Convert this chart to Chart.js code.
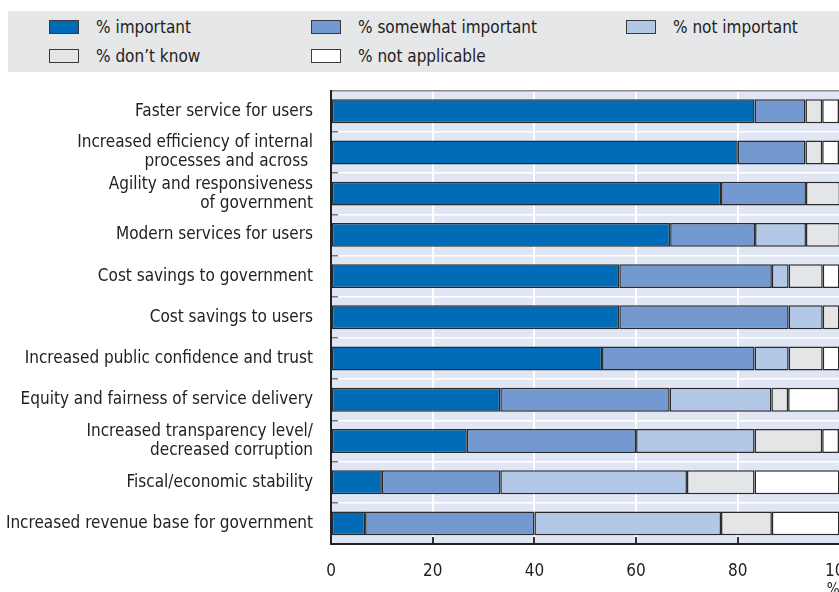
<!doctype html>
<html lang="en">
<head>
  <meta charset="utf-8">
  <title>Expected benefits</title>
  <script src="https://cdn.jsdelivr.net/npm/chart.js"></script>
  <style>
    body {
      margin: 0;
      width: 839px;
      height: 592px;
      overflow: hidden;
      position: relative;
      background: #fff;
      font-family: 'Liberation Sans Narrow', 'DejaVu Sans Condensed', sans-serif;
    }
    #legend {
      position: absolute;
      left: 8px;
      top: 11px;
      width: 831px;
      height: 61px;
      background: #e6e7e9;
    }
    .item {
      position: absolute;
      height: 15px;
      font-size: 17px;
      color: #222;
      white-space: nowrap;
    }
    .item span.box {
      position: absolute;
      left: 0;
      top: 0;
      width: 28px;
      height: 12px;
      border: 1.5px solid #3a3a3a;
    }
    .item span.txt {
      position: absolute;
      left: 47px;
      top: -3px;
      line-height: 20px;
    }
    #wrap {
      position: absolute;
      left: 0;
      top: 80px;
      width: 860px;
      height: 525px;
    }
  </style>
</head>
<body>
  <div id="legend"></div>
  <div id="wrap"><canvas id="myChart"></canvas></div>

  <script>
    const categories = [
      'Faster service for users',
      ['Increased efficiency of internal', 'processes and across '],
      ['Agility and responsiveness', 'of government'],
      'Modern services for users',
      'Cost savings to government',
      'Cost savings to users',
      'Increased public confidence and trust',
      'Equity and fairness of service delivery',
      ['Increased transparency level/', 'decreased corruption'],
      'Fiscal/economic stability',
      'Increased revenue base for government'
    ]
    const seriesNames = ['% important', '% somewhat important', '% not important', '% don\u2019t know', '% not applicable']
    const seriesColors = ['#006bb6', '#7399d0', '#b3c7e7', '#e4e5e7', '#ffffff']

    const important = [83.3, 80, 76.7, 66.7, 56.7, 56.7, 53.3, 33.3, 26.7, 10, 6.7]
    const somewhatImportant = [10, 13.3, 16.7, 16.7, 30, 33.3, 30, 33.3, 33.3, 23.3, 33.3]
    const notImportant = [0, 0, 0, 10, 3.3, 6.7, 6.7, 20, 23.3, 36.7, 36.7]
    const dontKnow = [3.3, 3.3, 6.7, 6.7, 6.7, 3.3, 6.7, 3.3, 13.3, 13.3, 10]
    const notApplicable = [3.3, 3.3, 0, 0, 3.3, 0, 3.3, 10, 3.3, 16.7, 13.3]
    const xTicks = [0, 20, 40, 60, 80, 100]

    const seriesValues = [important, somewhatImportant, notImportant, dontKnow, notApplicable]

    // legend in two rows, fixed columns like the original figure
    const legendCols = [41, 303, 618]
    const legendRows = [9, 38]
    const legendPlace = [[0, 0], [0, 1], [0, 2], [1, 0], [1, 1]]
    const legendEl = document.getElementById('legend')
    seriesNames.forEach((name, i) => {
      const item = document.createElement('div')
      item.className = 'item'
      item.style.left = legendCols[legendPlace[i][1]] + 'px'
      item.style.top = legendRows[legendPlace[i][0]] + 'px'
      item.innerHTML = '<span class="box" style="background:' + seriesColors[i] + '"></span><span class="txt"></span>'
      item.querySelector('.txt').textContent = name
      legendEl.appendChild(item)
    })

    const fontFamily = "'Liberation Sans Narrow', 'DejaVu Sans Condensed', sans-serif"
    Chart.defaults.font.family = fontFamily
    Chart.defaults.color = '#222'

    const plotBackground = {
      id: 'plotBackground',
      beforeDraw(chart) {
        const a = chart.chartArea
        const ctx = chart.ctx
        ctx.save()
        ctx.fillStyle = '#e0e6f4'
        ctx.fillRect(a.left, a.top, a.right - a.left, a.bottom - a.top)
        ctx.restore()
      }
    }

    const datasets = seriesNames.map((name, i) => ({
      label: name,
      data: seriesValues[i],
      backgroundColor: seriesColors[i],
      borderColor: '#2a2a2a',
      borderWidth: 1.5,
      borderSkipped: false,
      categoryPercentage: 1,
      barPercentage: 0.58
    }))

    var myChart = new Chart(document.getElementById('myChart'), {
      type: 'bar',
      data: { labels: categories, datasets },
      plugins: [plotBackground],
      options: {
        indexAxis: 'y',
        animation: false,
        responsive: true,
        maintainAspectRatio: false,
        layout: { padding: { top: 10.6, left: 0, right: 20.5, bottom: 0 } },
        plugins: {
          legend: { display: false },
          tooltip: { enabled: false }
        },
        scales: {
          x: {
            stacked: true,
            min: 0,
            max: 100,
            afterBuildTicks: (scale) => { scale.ticks = xTicks.map(v => ({ value: v })) },
            afterFit: (scale) => {
              scale.height = 61
              scale.paddingLeft = 0
              scale.paddingRight = 0
            },
            grid: {
              color: '#ffffff',
              lineWidth: 2,
              tickColor: '#333',
              tickLength: -7,
              drawTicks: true
            },
            border: { color: '#222', width: 2 },
            ticks: {
              padding: 24,
              font: { size: 17 },
              color: '#222'
            },
            title: {
              display: true,
              text: '%',
              align: 'end',
              font: { size: 15 },
              padding: { top: 0, bottom: 6 }
            }
          },
          y: {
            stacked: true,
            afterFit: (scale) => {
              scale.width = 331
              scale.paddingTop = 0
              scale.paddingBottom = 0
            },
            grid: {
              color: (c) => c.index === 0 ? '#8a8a8a' : '#ffffff',
              lineWidth: 1.5,
              tickColor: (c) => c.index === 0 ? 'rgba(0,0,0,0)' : '#777',
              tickLength: -7,
              drawTicks: true
            },
            border: { color: '#222', width: 2 },
            ticks: {
              autoSkip: false,
              padding: 25,
              font: { size: 17, lineHeight: 1.12 },
              color: '#222'
            }
          }
        }
      }
    })
  </script>
</body>
</html>
